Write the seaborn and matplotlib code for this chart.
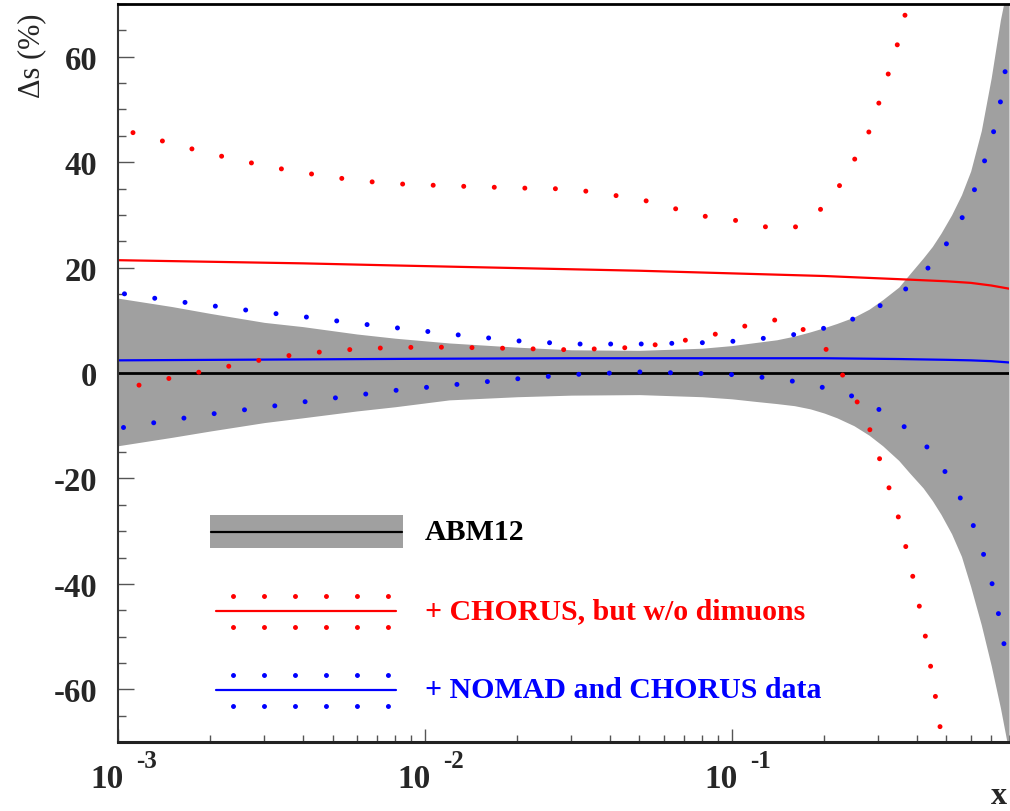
import matplotlib
matplotlib.use("Agg")
import matplotlib.pyplot as plt
import matplotlib.transforms as mtransforms
from matplotlib.lines import Line2D
from matplotlib.patches import Rectangle
from matplotlib.ticker import FixedLocator, LogLocator, MultipleLocator, NullFormatter
import seaborn as sns

# ---------------------------------------------------------------- data
# ABM12 uncertainty band (relative, %)
x_band = [0.001, 0.0015, 0.002, 0.003, 0.004, 0.006, 0.008, 0.012, 0.02, 0.03,
          0.05, 0.08, 0.1, 0.12, 0.14, 0.16, 0.18, 0.2, 0.22, 0.25, 0.28, 0.31,
          0.35, 0.38, 0.42, 0.45, 0.48, 0.52, 0.56, 0.6, 0.65, 0.7, 0.75, 0.8]
abm12_up = [14.2, 12.6, 11.3, 9.6, 8.8, 7.4, 6.6, 5.7, 4.9, 4.4,
            4.3, 4.7, 5.2, 5.8, 6.3, 7.0, 7.8, 8.6, 9.4, 10.6, 12.1, 13.9,
            16.3, 18.8, 21.8, 24.0, 26.5, 30.0, 33.8, 38.3, 46.0, 56.0, 67.0, 75.0]
abm12_lo = [-13.8, -12.2, -11.0, -9.4, -8.5, -7.2, -6.4, -5.1, -4.5, -4.2,
            -4.1, -4.5, -4.9, -5.4, -5.8, -6.2, -6.8, -7.6, -8.5, -10.0, -11.8, -13.8,
            -16.6, -19.0, -21.8, -24.2, -26.8, -30.5, -34.8, -40.5, -47.8, -55.5, -63.5, -72.0]
abm12_central = [0.0] * len(x_band)

# + CHORUS, but w/o dimuons
x_chorus_c = [0.001, 0.002, 0.004, 0.008, 0.02, 0.05, 0.1, 0.2, 0.35, 0.5, 0.6, 0.7, 0.8]
chorus_c = [21.4, 21.1, 20.8, 20.4, 19.9, 19.4, 18.9, 18.4, 17.8, 17.4, 17.1, 16.6, 16.0]

x_chorus_up = [0.001, 0.0015, 0.002, 0.003, 0.004, 0.006, 0.008, 0.012, 0.02, 0.03,
               0.05, 0.08, 0.1, 0.12, 0.14, 0.16, 0.18, 0.2, 0.22, 0.25, 0.28,
               0.31, 0.35, 0.38]
chorus_up = [46.4, 43.5, 41.6, 39.3, 38.0, 36.5, 35.9, 35.5, 35.1, 34.9,
             33.0, 29.8, 29.1, 28.1, 27.3, 27.6, 29.5, 31.6, 34.7, 40.3, 45.8,
             53.3, 63.2, 71.5]

x_chorus_lo = [0.001, 0.0015, 0.002, 0.003, 0.004, 0.006, 0.008, 0.012, 0.02, 0.03,
               0.05, 0.08, 0.1, 0.12, 0.14, 0.16, 0.18, 0.2, 0.22, 0.25, 0.28,
               0.31, 0.35, 0.38, 0.42, 0.45, 0.48, 0.5]
chorus_lo = [-3.2, -0.9, 0.6, 2.6, 3.7, 4.55, 4.85, 4.9, 4.65, 4.4,
             4.9, 6.7, 8.2, 9.5, 10.1, 9.3, 7.4, 5.0, 1.5, -4.2, -10.3,
             -18.0, -27.6, -36.0, -47.5, -57.5, -68.2, -75.0]

# + NOMAD and CHORUS data
x_nomad_c = [0.001, 0.01, 0.03, 0.1, 0.2, 0.35, 0.5, 0.6, 0.7, 0.8]
nomad_c = [2.4, 2.7, 2.8, 2.8, 2.8, 2.65, 2.5, 2.4, 2.25, 2.0]

x_nomad = [0.001, 0.0015, 0.002, 0.003, 0.004, 0.006, 0.008, 0.012, 0.02, 0.03,
           0.05, 0.08, 0.1, 0.12, 0.14, 0.16, 0.18, 0.2, 0.22, 0.25, 0.28, 0.31,
           0.35, 0.38, 0.42, 0.45, 0.48, 0.52, 0.56, 0.6, 0.65, 0.7, 0.75, 0.8]
nomad_up = [15.2, 13.7, 12.8, 11.5, 10.7, 9.4, 8.6, 7.4, 6.1, 5.5,
            5.5, 5.75, 6.0, 6.4, 6.9, 7.3, 7.9, 8.5, 9.2, 10.3, 11.8, 13.0,
            15.0, 16.5, 18.9, 20.8, 22.9, 26.0, 29.2, 32.7, 38.5, 43.8, 51.4, 62.0]
nomad_lo = [-10.5, -8.9, -7.8, -6.5, -5.5, -4.2, -3.3, -2.3, -1.1, -0.3,
            0.2, -0.1, -0.3, -0.7, -1.1, -1.6, -2.2, -2.8, -3.4, -4.5, -5.9, -7.3,
            -9.5, -10.9, -13.2, -15.2, -17.4, -20.8, -24.1, -27.6, -33.0, -39.2, -47.4, -57.0]

legend_labels = ["ABM12", "+ CHORUS, but w/o dimuons", "+ NOMAD and CHORUS data"]
xtick_values = [1e-3, 1e-2, 1e-1]
xtick_exponents = ["-3", "-2", "-1"]
ytick_values = [-60, -40, -20, 0, 20, 40, 60]

# ---------------------------------------------------------------- style
sns.set_style("ticks")
plt.rcParams["font.family"] = ["Liberation Serif", "DejaVu Serif"]
plt.rcParams["lines.scale_dashes"] = False

BAND = "#a0a0a0"
RED = "#ff0000"
BLUE = "#0000ff"
W, H = 1010, 812


def fx(px):
    return px / W


def fy(py):
    return 1 - py / H


def dots(offset):
    # round dots spaced ~30 px along the curve
    return (offset, (0.01, 22.0))


fig = plt.figure(figsize=(W / 100, H / 100), dpi=100)
ax = fig.add_axes([fx(118), fy(743), fx(1009) - fx(118), fy(5) - fy(743)])
ax.set_xscale("log")

ax.fill_between(x_band, abm12_lo, abm12_up, color=BAND, lw=0, zorder=1)
sns.lineplot(x=x_band, y=abm12_central, color="black", lw=2.0, ax=ax, zorder=3)

sns.lineplot(x=x_chorus_c, y=chorus_c, color=RED, lw=1.6, ax=ax, zorder=4)
sns.lineplot(x=x_chorus_up, y=chorus_up, color=RED, lw=3.6, ls=dots(10.8),
             dash_capstyle="round", ax=ax, zorder=5)
sns.lineplot(x=x_chorus_lo, y=chorus_lo, color=RED, lw=3.6, ls=dots(6.5),
             dash_capstyle="round", ax=ax, zorder=5)

sns.lineplot(x=x_nomad_c, y=nomad_c, color=BLUE, lw=1.6, ax=ax, zorder=4)
sns.lineplot(x=x_nomad, y=nomad_up, color=BLUE, lw=3.6, ls=dots(17.3),
             dash_capstyle="round", ax=ax, zorder=5)
sns.lineplot(x=x_nomad, y=nomad_lo, color=BLUE, lw=3.6, ls=dots(18.0),
             dash_capstyle="round", ax=ax, zorder=5)

ax.set_xlim(1e-3, 0.8)
ax.set_ylim(-70, 70)
ax.set_xlabel("")
ax.set_ylabel("")

# ---------------------------------------------------------------- axes
ax.spines["right"].set_visible(False)
ax.spines["top"].set_linewidth(2.0)
ax.spines["top"].set_color("black")
ax.spines["left"].set_linewidth(1.5)
ax.spines["left"].set_color("#333333")
ax.spines["bottom"].set_linewidth(2.2)
ax.spines["bottom"].set_color("#222222")
for s in ax.spines.values():
    s.set_zorder(6)

ax.yaxis.set_major_locator(FixedLocator(ytick_values))
ax.yaxis.set_minor_locator(MultipleLocator(5))
ax.set_yticks(ytick_values, labels=[str(v) for v in ytick_values],
              fontweight="bold", fontsize=23.5)
ax.tick_params(axis="y", which="major", direction="in", length=11.5, width=1,
               color="#555555", pad=15, left=True, right=False)
ax.tick_params(axis="y", which="minor", direction="in", length=5.8, width=1,
               color="#555555", left=True, right=False)

ax.xaxis.set_major_locator(FixedLocator(xtick_values))
ax.xaxis.set_minor_locator(LogLocator(base=10, subs=range(2, 10)))
ax.xaxis.set_minor_formatter(NullFormatter())
ax.tick_params(axis="x", which="major", direction="in", length=9.4, width=1,
               color="#555555", labelbottom=False, bottom=True, top=False)
ax.tick_params(axis="x", which="minor", direction="in", length=4.7, width=1,
               color="#555555", bottom=True, top=False)

# decade labels written as "10" with a raised exponent
xtrans = mtransforms.blended_transform_factory(ax.transData, fig.transFigure)
for v, e in zip(xtick_values, xtick_exponents):
    t_base = xtrans + mtransforms.ScaledTranslation(6 / 100, 0, fig.dpi_scale_trans)
    t_exp = xtrans + mtransforms.ScaledTranslation(18 / 100, 0, fig.dpi_scale_trans)
    ax.text(v, fy(788), "10", transform=t_base, ha="right", va="baseline",
            fontsize=24, fontweight="bold", clip_on=False)
    ax.text(v, fy(768), e, transform=t_exp, ha="left", va="baseline",
            fontsize=18, fontweight="bold", clip_on=False)

fig.text(fx(1007), fy(811), "x", ha="right", va="bottom", fontsize=23,
         fontweight="bold")
fig.text(fx(32), fy(14), "\u0394s (%)", rotation=90, ha="center", va="top",
         fontsize=22)

# ---------------------------------------------------------------- legend
ft = fig.transFigure
fig.add_artist(Rectangle((fx(210), fy(549)), fx(403) - fx(210), fy(516) - fy(549),
                         transform=ft, facecolor=BAND, edgecolor="none", zorder=7))
fig.add_artist(Line2D([fx(211), fx(402)], [fy(533), fy(533)], transform=ft,
                      color="black", lw=1.6, zorder=8))

for yc, col in ((612, RED), (691, BLUE)):
    fig.add_artist(Line2D([fx(216), fx(396)], [fy(yc), fy(yc)], transform=ft,
                          color=col, lw=1.6, zorder=8))
    for dy in (-15.5, 15.5):
        fig.add_artist(Line2D([fx(233), fx(389)], [fy(yc + dy), fy(yc + dy)],
                              transform=ft, color=col, lw=3.6,
                              ls=(0, (0.01, 22.3)), dash_capstyle="round",
                              zorder=8))

for label, yc, col in zip(legend_labels, (533, 612, 691), ("black", RED, BLUE)):
    fig.text(fx(425), fy(yc), label, ha="left", va="center", fontsize=21.5,
             fontweight="bold", color=col, zorder=8)

fig.savefig("out.png", dpi=100)
